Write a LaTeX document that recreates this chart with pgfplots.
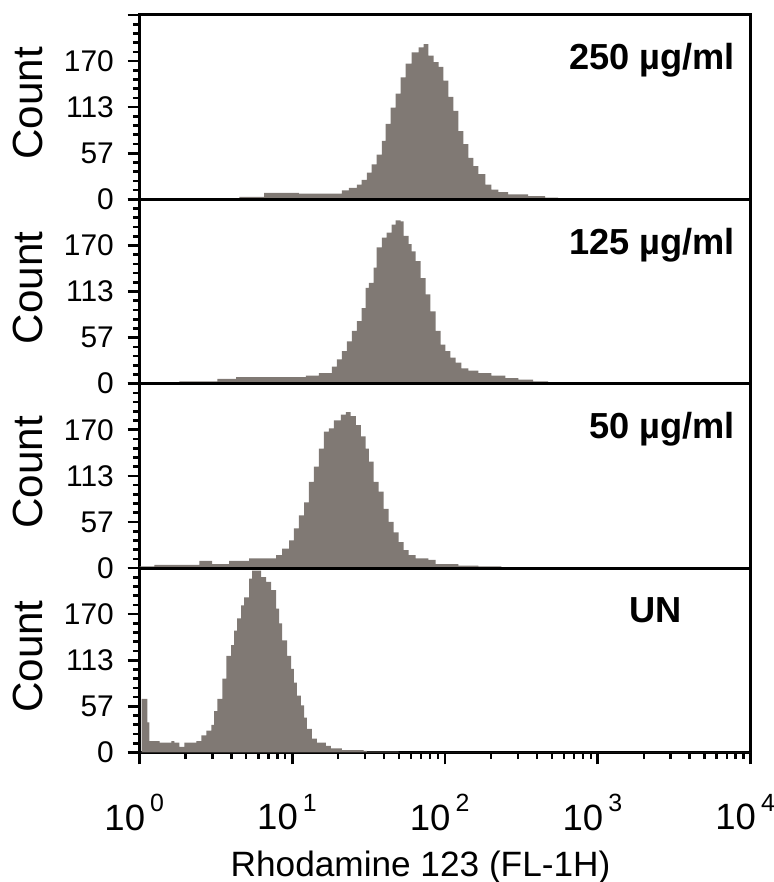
\documentclass[border=0pt]{standalone}
\usepackage{fontspec}
\setmainfont{Liberation Sans}
\usepackage{pgfplots}
\pgfplotsset{compat=1.18}
\definecolor{histgray}{RGB}{128,121,116}

% one FACS histogram panel; x in decades (log10 of FL-1H)
\pgfplotsset{
  facs/.style={
    width=183.9pt, height=55.5pt, scale only axis,
    xmin=0, xmax=4, ymin=0, ymax=227,
    axis line style={line width=0.9pt},
    every tick/.style={black, line width=0.8pt},
    tick align=outside,
    ytick={0,56.75,113.5,170.25,227},
    yticklabels={0,57,113,170,},
    minor y tick num=4,
    major tick length=3.6pt, minor tick length=2pt,
    yticklabel style={font=\fontsize{9}{9}\selectfont, xshift=-0.6pt},
    /pgf/number format/assume math mode=true,
    xtick=\empty,
    ytick pos=left,
    ylabel={Count},
    ylabel style={font=\fontsize{12.7}{12.7}\selectfont, at={(axis description cs:-0.183,0.52)}, anchor=center},
    clip=true,
  },
}
\tikzset{tag/.style={font=\bfseries\fontsize{10.9}{10.9}\selectfont, anchor=base east, inner sep=0pt}}

\begin{document}
\begin{tikzpicture}
\useasboundingbox (-42pt,4.5pt) rectangle (190.8pt,-261pt);

% 250 ug/ml
\begin{axis}[facs, name=p1, at={(0,0)}, anchor=north west]
\addplot[const plot, fill=histgray, draw=none] coordinates {
(0.000,0) (0.392,1) (0.653,3) (0.816,8) (1.044,7) (1.325,11) (1.370,14)
(1.423,18) (1.455,24) (1.488,33) (1.520,43) (1.553,55) (1.586,72) (1.612,93)
(1.644,113) (1.677,130) (1.710,150) (1.742,167) (1.781,181) (1.827,187)
(1.860,191) (1.892,177) (1.925,169) (1.958,163) (1.990,146) (2.023,126)
(2.055,109) (2.088,84) (2.121,68) (2.153,51) (2.186,41) (2.219,31) (2.264,18)
(2.303,12) (2.349,9) (2.414,6) (2.545,4) (2.656,2) (2.741,0) (4.000,0)
} \closedcycle;
\node[tag] at (axis description cs:0.9755,0.703) {250 µg/ml};
\end{axis}

% 125 ug/ml
\begin{axis}[facs, name=p2, at={(p1.south west)}, anchor=north west]
\addplot[const plot, fill=histgray, draw=none] coordinates {
(0.000,1) (0.261,3) (0.509,6) (0.633,8) (1.090,10) (1.175,13) (1.259,21)
(1.292,30) (1.325,40) (1.357,52) (1.390,65) (1.423,77) (1.455,93) (1.481,118)
(1.501,124) (1.533,143) (1.553,168) (1.586,180) (1.618,186) (1.651,196)
(1.677,201) (1.710,200) (1.729,182) (1.762,172) (1.781,163) (1.808,151)
(1.840,130) (1.873,110) (1.905,89) (1.938,65) (1.971,48) (2.003,40) (2.036,32)
(2.069,26) (2.108,19) (2.153,16) (2.219,13) (2.303,10) (2.395,7) (2.480,5)
(2.577,3) (2.675,0) (4.000,0)
} \closedcycle;
\node[tag] at (axis description cs:0.9755,0.703) {125 µg/ml};
\end{axis}

% 50 ug/ml
\begin{axis}[facs, name=p3, at={(p2.south west)}, anchor=north west]
\addplot[const plot, fill=histgray, draw=none] coordinates {
(0.000,2) (0.098,4) (0.392,9) (0.476,5) (0.587,9) (0.718,12) (0.894,16)
(0.933,24) (0.979,34) (1.011,49) (1.044,65) (1.077,81) (1.109,106) (1.142,125)
(1.175,147) (1.207,168) (1.240,172) (1.272,182) (1.318,189) (1.351,192)
(1.383,187) (1.416,176) (1.449,162) (1.481,147) (1.501,131) (1.533,106)
(1.566,94) (1.599,73) (1.631,57) (1.664,44) (1.697,32) (1.729,22) (1.762,16)
(1.808,12) (1.892,10) (1.938,5) (2.088,3) (2.219,2) (2.369,1) (2.512,0)
(4.000,0)
} \closedcycle;
\node[tag] at (axis description cs:0.9755,0.703) {50 µg/ml};
\end{axis}

% untreated
\begin{axis}[facs, name=p4, at={(p3.south west)}, anchor=north west,
  xtick={0,1,2,3,4},
  xtick pos=bottom,
  minor xtick={0.301,0.477,0.602,0.699,0.778,0.845,0.903,0.954,
               1.301,1.477,1.602,1.699,1.778,1.845,1.903,1.954,
               2.301,2.477,2.602,2.699,2.778,2.845,2.903,2.954,
               3.301,3.477,3.602,3.699,3.778,3.845,3.903,3.954},
  minor x tick style={line width=0.7pt},
  xticklabels={
    10\hspace{1.5pt}\raisebox{5.5pt}{\fontsize{7.5}{7.5}\selectfont 0},
    10\hspace{1.5pt}\raisebox{5.5pt}{\fontsize{7.5}{7.5}\selectfont 1},
    10\hspace{1.5pt}\raisebox{5.5pt}{\fontsize{7.5}{7.5}\selectfont 2},
    10\hspace{1.5pt}\raisebox{5.5pt}{\fontsize{7.5}{7.5}\selectfont 3},
    10\hspace{1.5pt}\raisebox{5.5pt}{\fontsize{7.5}{7.5}\selectfont 4}},
  xticklabel style={font=\fontsize{11}{11}\selectfont, xshift=-1.6pt, yshift=-5.5pt},
  xlabel={Rhodamine 123 (FL-1H)},
  xlabel style={font=\fontsize{10.6}{10.6}\selectfont, at={(axis description cs:0.46,-0.675)}, anchor=base},
]
\addplot[const plot, fill=histgray, draw=none] coordinates {
(0.000,0) (0.013,66) (0.052,37) (0.065,14) (0.131,12) (0.209,14) (0.228,12)
(0.261,7) (0.294,12) (0.372,14) (0.405,21) (0.437,27) (0.470,34) (0.489,51)
(0.509,66) (0.542,91) (0.568,119) (0.600,132) (0.620,150) (0.639,165)
(0.666,181) (0.685,191) (0.718,214) (0.737,224) (0.796,216) (0.829,210)
(0.861,200) (0.894,177) (0.914,159) (0.933,138) (0.966,119) (0.992,103)
(1.011,86) (1.031,70) (1.057,58) (1.077,43) (1.096,29) (1.129,17) (1.162,12)
(1.220,8) (1.253,5) (1.325,3) (1.468,2) (1.488,1) (1.697,0) (4.000,0)
} \closedcycle;
\node[tag, anchor=base] at (axis description cs:0.845,0.703) {UN};
\end{axis}
\end{tikzpicture}
\end{document}
